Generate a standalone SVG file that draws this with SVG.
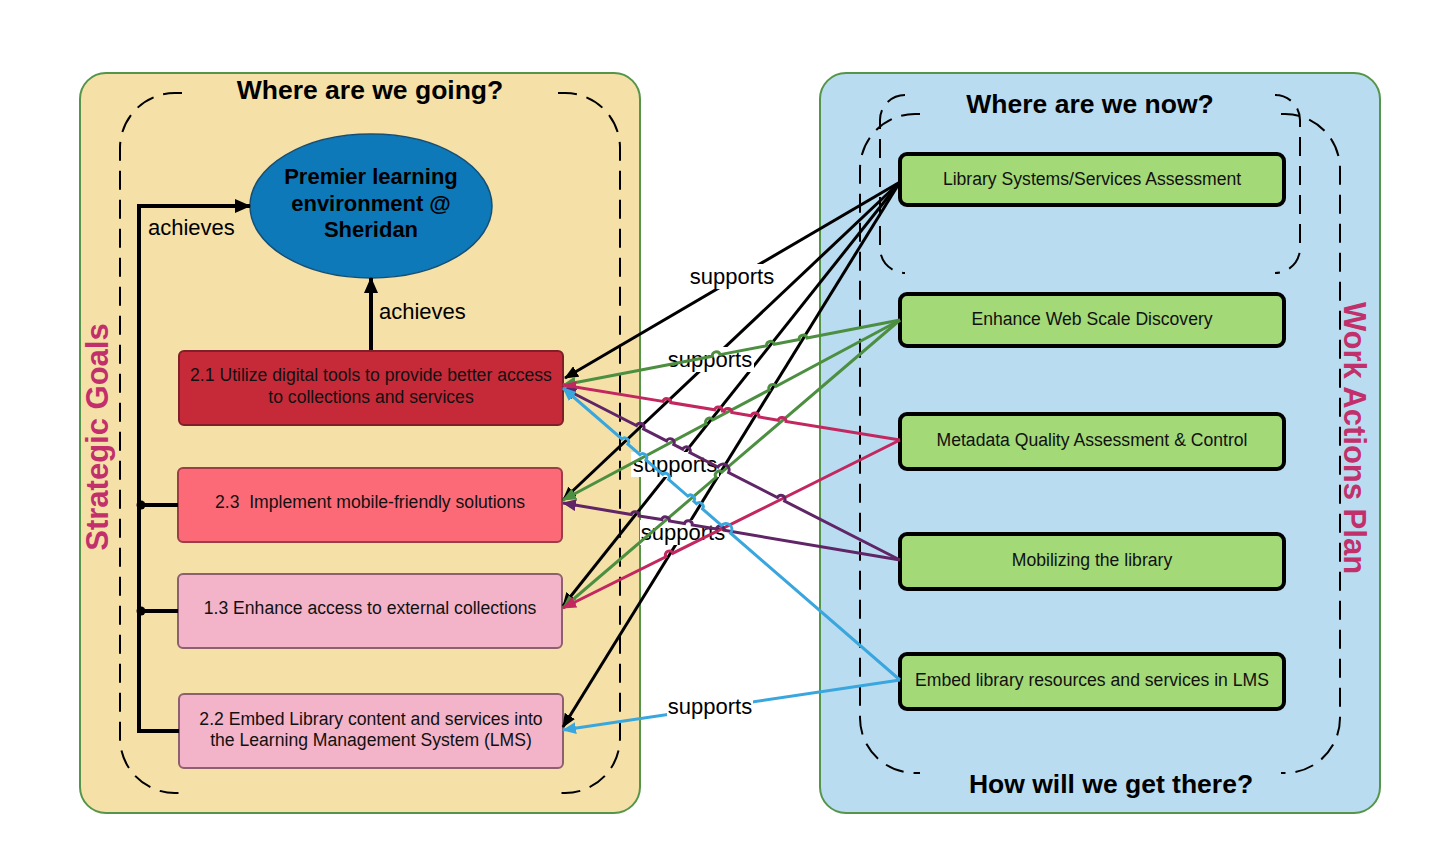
<svg xmlns="http://www.w3.org/2000/svg" width="1453" height="854" viewBox="0 0 1453 854">
<style>
.cont{stroke:#55954a;stroke-width:2}
.dash{fill:none;stroke:#000;stroke-width:2;stroke-dasharray:19 10}
.title{font-family:"Liberation Sans",Arial,sans-serif;font-weight:bold;font-size:26.5px;fill:#000;text-anchor:middle}
.ell{font-family:"Liberation Sans",Arial,sans-serif;font-weight:bold;font-size:22px;fill:#000;text-anchor:middle}
.side{font-family:"Liberation Sans",Arial,sans-serif;font-weight:bold;font-size:31px;fill:#c2306c;text-anchor:middle}
.bt{font-family:"Liberation Sans",Arial,sans-serif;font-size:17.6px;fill:#111;text-anchor:middle}
.lbl{font-family:"Liberation Sans",Arial,sans-serif;font-size:22px;fill:#000}
.mid{text-anchor:middle}
.gb{fill:#a3d977;stroke:#000;stroke-width:4}
.cn{fill:none;stroke-width:3}
.bk{stroke:#000}
.gr{stroke:#4c8f40}
.mg{stroke:#c2275f}
.pu{stroke:#5f2566}
.bl{stroke:#3aa6de}
.lb{fill:#fff}
</style>
<defs>
<marker id="aK" viewBox="0 0 14 12" refX="13" refY="6" markerWidth="14" markerHeight="12" orient="auto" markerUnits="userSpaceOnUse"><path d="M0,0 L14,6 L0,12 z" fill="#000"/></marker>
<marker id="aK2" viewBox="0 0 16 14" refX="15" refY="7" markerWidth="16" markerHeight="14" orient="auto" markerUnits="userSpaceOnUse"><path d="M0,0 L16,7 L0,14 z" fill="#000"/></marker>
<marker id="aG" viewBox="0 0 14 12" refX="13" refY="6" markerWidth="14" markerHeight="12" orient="auto" markerUnits="userSpaceOnUse"><path d="M0,0 L14,6 L0,12 z" fill="#4c8f40"/></marker>
<marker id="aM" viewBox="0 0 14 12" refX="13" refY="6" markerWidth="14" markerHeight="12" orient="auto" markerUnits="userSpaceOnUse"><path d="M0,0 L14,6 L0,12 z" fill="#c2275f"/></marker>
<marker id="aP" viewBox="0 0 14 12" refX="13" refY="6" markerWidth="14" markerHeight="12" orient="auto" markerUnits="userSpaceOnUse"><path d="M0,0 L14,6 L0,12 z" fill="#5f2566"/></marker>
<marker id="aB" viewBox="0 0 14 12" refX="13" refY="6" markerWidth="14" markerHeight="12" orient="auto" markerUnits="userSpaceOnUse"><path d="M0,0 L14,6 L0,12 z" fill="#3aa6de"/></marker>
</defs>

<g id="strategic-goals">
<rect class="cont" x="80" y="73" width="560" height="740" rx="26" fill="#f5e1a8"/>
<path class="dash" d="M182,93 H175 A55,55 0 0 0 120,148 V738 A55,55 0 0 0 175,793 H182"/>
<path class="dash" d="M558,93 H565 A55,55 0 0 1 620,148 V738 A55,55 0 0 1 565,793 H558"/>
<text class="title" x="370" y="99">Where are we going?</text>
<text class="side" transform="translate(108,437) rotate(-90)">Strategic Goals</text>
</g>

<g id="work-actions-plan">
<rect class="cont" x="820" y="73" width="560" height="740" rx="26" fill="#badcf0"/>
<path class="dash" d="M920,114 H915 A55,55 0 0 0 860,169 V718 A55,55 0 0 0 915,773 H920"/>
<path class="dash" d="M1281,114 H1285 A55,55 0 0 1 1340,169 V718 A55,55 0 0 1 1285,773 H1281"/>
<path class="dash" d="M905,95 A25,25 0 0 0 880,120 V248 A25,25 0 0 0 905,273"/>
<path class="dash" d="M1277,95 H1275 A25,25 0 0 1 1300,120 V248 A25,25 0 0 1 1275,273 H1277"/>
<text class="title" x="1090" y="113">Where are we now?</text>
<text class="title" x="1111" y="793">How will we get there?</text>
<text class="side" transform="translate(1344,438) rotate(90)">Work Actions Plan</text>
</g>

<g id="premier">
<ellipse cx="371" cy="206" rx="121" ry="72" fill="#0e79b9" stroke="#174f74" stroke-width="1.5"/>
<text class="ell" x="371" y="184">Premier learning</text>
<text class="ell" x="371" y="211">environment @</text>
<text class="ell" x="371" y="237">Sheridan</text>
</g>

<g id="goal-2-1">
<rect x="179" y="351" width="384" height="74" rx="5" fill="#c62a39" stroke="#7e1f29" stroke-width="2"/>
<text class="bt" x="371" y="381">2.1 Utilize digital tools to provide better access</text>
<text class="bt" x="371" y="403">to collections and services</text>
</g>
<g id="goal-2-3">
<rect x="178" y="468" width="384" height="74" rx="5" fill="#fd6a77" stroke="#9c3d48" stroke-width="2"/>
<text class="bt" x="370" y="508" xml:space="preserve">2.3  Implement mobile-friendly solutions</text>
</g>
<g id="goal-1-3">
<rect x="178" y="574" width="384" height="74" rx="5" fill="#f3b3c8" stroke="#8c6070" stroke-width="2"/>
<text class="bt" x="370" y="614">1.3 Enhance access to external collections</text>
</g>
<g id="goal-2-2">
<rect x="179" y="694" width="384" height="74" rx="5" fill="#f3b3c8" stroke="#8c6070" stroke-width="2"/>
<text class="bt" x="371" y="725">2.2 Embed Library content and services into</text>
<text class="bt" x="371" y="746">the Learning Management System (LMS)</text>
</g>

<g id="wa-library-systems">
<rect class="gb" x="900" y="154" width="384" height="51" rx="7"/>
<text class="bt" x="1092" y="185">Library Systems/Services Assessment</text>
</g>
<g id="wa-web-scale">
<rect class="gb" x="900" y="294" width="384" height="52" rx="7"/>
<text class="bt" x="1092" y="325">Enhance Web Scale Discovery</text>
</g>
<g id="wa-metadata">
<rect class="gb" x="900" y="414" width="384" height="55" rx="7"/>
<text class="bt" x="1092" y="446">Metadata Quality Assessment &amp; Control</text>
</g>
<g id="wa-mobilizing">
<rect class="gb" x="900" y="534" width="384" height="55" rx="7"/>
<text class="bt" x="1092" y="566">Mobilizing the library</text>
</g>
<g id="wa-embed">
<rect class="gb" x="900" y="654" width="384" height="55" rx="7"/>
<text class="bt" x="1092" y="686">Embed library resources and services in LMS</text>
</g>

<g id="connectors">
<path d="M179,731 H139 V206 H250" fill="none" stroke="#000" stroke-width="4" marker-end="url(#aK2)"/>
<path d="M178,505 H139 M178,611 H139" fill="none" stroke="#000" stroke-width="4"/>
<circle cx="141" cy="505" r="4.5" fill="#000"/>
<circle cx="141" cy="611" r="4.5" fill="#000"/>
<text class="lbl" x="148" y="235">achieves</text>
<path d="M371,350 V278" fill="none" stroke="#000" stroke-width="4" marker-end="url(#aK2)"/>
<text class="lbl" x="379" y="319">achieves</text>

<path class="cn bk" d="M900,182 L565,378" marker-end="url(#aK)"/>
<path class="cn bk" d="M900,182 L563,500" marker-end="url(#aK)"/>
<path class="cn bk" d="M900,182 L563,606" marker-end="url(#aK)"/>
<path class="cn bk" d="M900,182 L563,727" marker-end="url(#aK)"/>
<rect class="lb" x="688" y="264" width="88" height="25"/>
<text class="lbl mid" x="732" y="284">supports</text>
<rect class="lb" x="666" y="347" width="88" height="25"/>
<text class="lbl mid" x="710" y="367">supports</text>
<rect class="lb" x="631" y="452" width="88" height="25"/>
<text class="lbl mid" x="675" y="472">supports</text>
<rect class="lb" x="640" y="520" width="86" height="25"/>
<text class="lbl mid" x="683" y="540">supports</text>

<path class="cn gr" d="M900,320 L807.0,337.9 A4,4 0 0 0 799.2,339.5 L774.4,344.2 A4,4 0 0 0 766.6,345.8 L720.1,354.6 A4,4 0 0 0 712.3,356.2 L563,385" marker-end="url(#aG)"/>
<path class="cn gr" d="M900,320 L776.1,386.2 A4,4 0 0 0 769.1,390.0 L712.9,419.9 A4,4 0 0 0 705.9,423.7 L563,500" marker-end="url(#aG)"/>
<path class="cn gr" d="M900,320 L722.0,472.1 A4,4 0 0 0 716.0,477.3 L563,608" marker-end="url(#aG)"/>

<path class="cn mg" d="M900,440 L786.0,421.4 A4,4 0 0 0 778.2,420.2 L759.0,417.0 A4,4 0 0 0 751.2,415.8 L731.8,412.5 A4,4 0 0 0 724.0,411.3 L722.4,411.0 A4,4 0 0 0 714.6,409.8 L670.8,402.6 A4,4 0 0 0 663.0,401.4 L563,385" marker-end="url(#aM)"/>
<path class="cn mg" d="M900,440 L673.0,553.2 A4,4 0 0 0 665.8,556.8 L563,608" marker-end="url(#aM)"/>

<path class="cn pu" d="M900,560 L784.6,501.1 A4,4 0 0 0 777.4,497.5 L728.6,472.5 A6,6 0 0 0 717.9,467.1 L689.9,452.7 A4,4 0 0 0 682.7,449.1 L673.8,444.5 A4,4 0 0 0 666.6,440.9 L643.6,429.1 A4,4 0 0 0 636.4,425.5 L563,388" marker-end="url(#aP)"/>
<path class="cn pu" d="M900,560 L724.2,530.3 A4,4 0 0 0 716.4,528.9 L692.3,524.9 A4,4 0 0 0 684.5,523.5 L669.5,521.0 A4,4 0 0 0 661.7,519.6 L639.1,515.9 A4,4 0 0 0 631.3,514.5 L563,503" marker-end="url(#aP)"/>

<path class="cn bl" d="M900,680 L730.6,533.2 A6,6 0 0 0 721.5,525.4 L702.5,508.9 A4,4 0 0 0 696.5,503.7 L693.8,501.3 A4,4 0 0 0 687.8,496.1 L668.6,479.5 A4,4 0 0 0 662.6,474.3 L646.0,459.9 A4,4 0 0 0 640.0,454.7 L627.9,444.2 A4,4 0 0 0 621.9,439.0 L563,388" marker-end="url(#aB)"/>
<path class="cn bl" d="M900,680 L563,730" marker-end="url(#aB)"/>
<rect class="lb" x="667" y="694" width="86" height="25"/>
<text class="lbl mid" x="710" y="714">supports</text>
</g>
</svg>
